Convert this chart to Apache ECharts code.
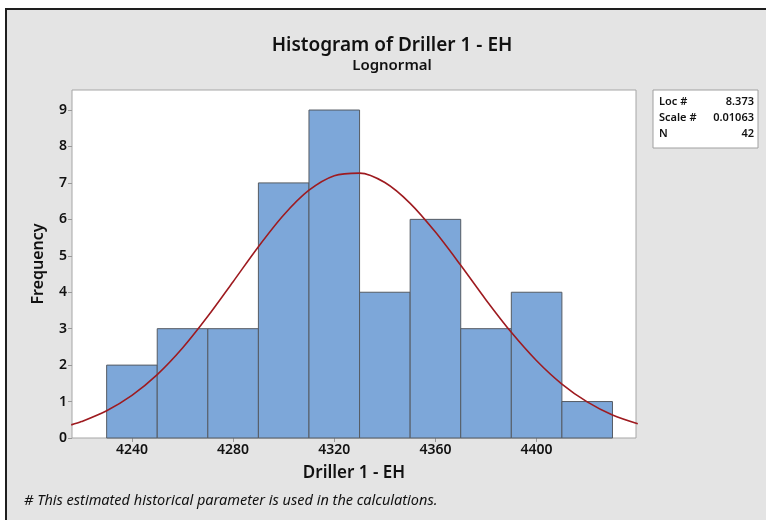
<!DOCTYPE html>
<html>
<head>
<meta charset="utf-8">
<script src="https://cdn.jsdelivr.net/npm/echarts@6/dist/echarts.min.js"></script>
<style>
  html, body { margin: 0; padding: 0; background: #fff; }
  #chart { width: 766px; height: 520px; }
</style>
</head>
<body>
<div id="chart"></div>
<script>
// bin edges (start, end) and counts
const binStart = [4230, 4250, 4270, 4290, 4310, 4330, 4350, 4370, 4390, 4410];
const binEnd   = [4250, 4270, 4290, 4310, 4330, 4350, 4370, 4390, 4410, 4430];
const counts   = [2, 3, 3, 7, 9, 4, 6, 3, 4, 1];

// fitted lognormal curve
const curveX = [4216, 4220, 4230, 4240, 4250, 4260, 4270, 4280, 4290, 4300, 4310, 4320,
  4330, 4340, 4350, 4360, 4370, 4380, 4390, 4400, 4410, 4420, 4430, 4440];
const curveY = [0.36, 0.45, 0.75, 1.17, 1.74, 2.47, 3.34, 4.29, 5.25, 6.12, 6.80, 7.20,
  7.27, 7.01, 6.44, 5.65, 4.74, 3.79, 2.90, 2.12, 1.48, 0.99, 0.63, 0.39];

const xTicks = [4240, 4280, 4320, 4360, 4400];
const statNames = ['Loc #', 'Scale #', 'N'];
const statValues = ['8.373', '0.01063', '42'];

const FONT = 'Noto Sans';
const chart = echarts.init(document.getElementById('chart'));

const bars = binStart.map((s, i) => [s, binEnd[i], counts[i]]);
const curve = curveX.map((x, i) => [x, curveY[i]]);

const statText = [];
statNames.forEach((n, i) => {
	statText.push({
		type: 'text', left: 659, top: 96 + i * 16,
		style: { text: n, font: '600 11px "' + FONT + '"', fill: '#111' },
	});
	statText.push({
		type: 'text', right: 12, top: 96 + i * 16,
		style: { text: statValues[i], font: '600 11px "' + FONT + '"', fill: '#111', textAlign: 'right' },
	});
});

const option = {
	animation: false,
	backgroundColor: '#fff',
	textStyle: { fontFamily: FONT },
	title: {
		text: 'Histogram of Driller 1 - EH',
		subtext: 'Lognormal',
		left: 387,
		top: 31,
		textAlign: 'center',
		itemGap: 3,
		textStyle: { fontFamily: FONT, fontSize: 19, fontWeight: 600, color: '#111' },
		subtextStyle: { fontFamily: FONT, fontSize: 15, fontWeight: 600, color: '#111' },
	},
	graphic: [
		{
			type: 'rect', z: -10, silent: true,
			shape: { x: 6, y: 9, width: 800, height: 600 },
			style: { fill: '#e4e4e4', stroke: '#1e1e1e', lineWidth: 2 },
		},
		{
			type: 'rect', silent: true,
			shape: { x: 653, y: 90, width: 105, height: 58 },
			style: { fill: '#fff', stroke: '#a0a0a0', lineWidth: 1 },
		},
		...statText,
		{
			type: 'text', left: 24, top: 493,
			style: {
				text: '# This estimated historical parameter is used in the calculations.',
				font: 'italic 14.5px "' + FONT + '"', fill: '#111',
			},
		},
	],
	grid: {
		left: 72, right: 130, top: 90, bottom: 82,
		show: true, backgroundColor: '#fff', borderColor: '#a6a6a6', borderWidth: 1,
	},
	xAxis: {
		type: 'value',
		min: 4216.3,
		max: 4439.3,
		name: 'Driller 1 - EH',
		nameLocation: 'middle',
		nameGap: 27,
		nameTextStyle: { fontFamily: FONT, fontSize: 17, fontWeight: 600, color: '#111' },
		axisLine: { show: false },
		splitLine: { show: false },
		axisTick: { show: true, length: 4, customValues: xTicks, lineStyle: { color: '#999' } },
		axisLabel: {
			customValues: xTicks, fontSize: 14, fontWeight: 600, color: '#111', margin: 5,
			formatter: (v) => String(v),
		},
	},
	yAxis: {
		type: 'value',
		min: 0,
		max: 9.55,
		interval: 1,
		name: 'Frequency',
		nameLocation: 'middle',
		nameGap: 26,
		nameTextStyle: { fontFamily: FONT, fontSize: 16, fontWeight: 600, color: '#111' },
		axisLine: { show: false },
		splitLine: { show: false },
		axisTick: { show: true, length: 4, lineStyle: { color: '#999' } },
		axisLabel: { fontSize: 14, fontWeight: 600, color: '#111', margin: 5, showMaxLabel: false },
	},
	series: [
		{
			type: 'custom',
			data: bars,
			renderItem: (params, api) => {
				const p0 = api.coord([api.value(0), api.value(2)]);
				const p1 = api.coord([api.value(1), 0]);
				return {
					type: 'rect',
					shape: { x: p0[0], y: p0[1], width: p1[0] - p0[0], height: p1[1] - p0[1] },
					style: { fill: '#7da7d9', stroke: '#555b63', lineWidth: 1 },
				};
			},
		},
		{
			type: 'line',
			data: curve,
			smooth: 0.3,
			showSymbol: false,
			clip: true,
			lineStyle: { color: '#9e1b20', width: 1.6 },
			z: 5,
		},
	],
};

option && chart.setOption(option);
</script>
</body>
</html>
